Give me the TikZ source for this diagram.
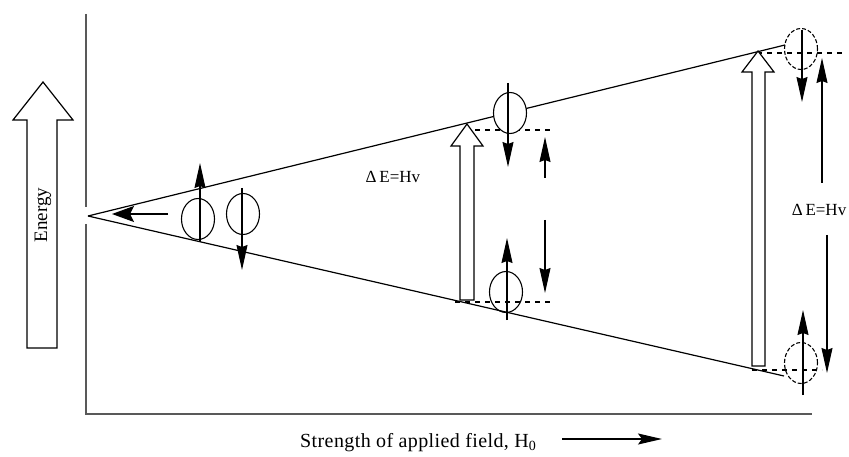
\documentclass[tikz,border=0pt]{standalone}
\usepackage{fontspec}
\setmainfont{Liberation Serif}
\usetikzlibrary{arrows.meta,shapes.geometric}
\begin{document}
\begin{tikzpicture}[x=1pt,y=-1pt,
  axis/.style={line width=2.2pt,draw=black!65},
  level/.style={line width=1.2pt},
  lvldash/.style={line width=1.2pt,dash pattern=on 5pt off 5pt},
  spin/.style={ellipse,draw,line width=1.1pt,fill=white,minimum width=33pt,minimum height=41pt,inner sep=0pt},
  spinopen/.style={spin,fill=none},
  spindash/.style={spin,fill=none,dash pattern=on 4pt off 2pt},
  spinarrow/.style={line width=1.1pt,-{Stealth[length=25pt,width=11pt,inset=2pt]}},
  hollow/.style={draw,line width=1.2pt,fill=white,line join=miter},
  lbl/.style={font=\fontsize{17}{17}\selectfont,inner sep=0pt}]
\useasboundingbox (0,0) rectangle (849,457);
% axes
\coordinate (ytop) at (86,14);
\coordinate (ybrk1) at (86,207);
\coordinate (ybrk2) at (86,224);
\coordinate (origin) at (86,414);
\coordinate (xend) at (812,414);
\draw[axis] (ytop) -- (ybrk1);
\draw[axis,line cap=butt] (ybrk2) -- (origin) -- (xend);
% energy lines
\coordinate (apex) at (88,216);
\coordinate (topend) at (785,45);
\coordinate (botend) at (784,376);
\draw[level] (apex) -- (topend);
\draw[level] (apex) -- (botend);
% dashed levels
\coordinate (m1a) at (465,130); \coordinate (m1b) at (550,130);
\coordinate (m2a) at (455,302); \coordinate (m2b) at (550,302);
\coordinate (r1a) at (757,53);  \coordinate (r1b) at (845,53);
\coordinate (r2a) at (752,370); \coordinate (r2b) at (822,370);
\draw[lvldash] (m1a) -- (m1b);
\draw[lvldash] (r1a) -- (r1b);
\draw[lvldash] (r2a) -- (r2b);
% hollow arrows
\draw[hollow] (27,348) -- (27,120) -- (13,120) -- (43,82) -- (73,120) -- (57,120) -- (57,348) -- cycle;
\draw[hollow] (460,300) -- (460,146) -- (451,146) -- (467,124) -- (483,146) -- (474,146) -- (474,300) -- cycle;
\draw[hollow] (752,366) -- (752,72) -- (742,72) -- (758,51) -- (774,72) -- (765,72) -- (765,366) -- cycle;
% spins
\node[spin] (c1) at (198,219) {};
\node[spin] (c2) at (243,214) {};
\node[spin] (c3) at (510,113) {};
\node[spinopen] (c4) at (506,292) {};
\node[spindash] (c5) at (801,49) {};
\node[spindash] (c6) at (801,363) {};
\draw[lvldash] (m2a) -- (m2b);
% spin arrows
\coordinate (s1a) at (200,242); \coordinate (s1b) at (200,163);
\coordinate (s2a) at (242,188); \coordinate (s2b) at (242,270);
\coordinate (s3a) at (508,83);  \coordinate (s3b) at (508,167);
\coordinate (s4a) at (507,320); \coordinate (s4b) at (507,238);
\coordinate (s5a) at (802,30);  \coordinate (s5b) at (802,102);
\coordinate (s6a) at (803,395); \coordinate (s6b) at (803,310);
\draw[spinarrow] (s1a) -- (s1b);
\draw[spinarrow] (s2a) -- (s2b);
\draw[spinarrow] (s3a) -- (s3b);
\draw[spinarrow] (s4a) -- (s4b);
\draw[spinarrow] (s5a) -- (s5b);
\draw[spinarrow] (s6a) -- (s6b);
% transition arrows
\coordinate (t1a) at (545,178); \coordinate (t1b) at (545,137);
\coordinate (t2a) at (545,220); \coordinate (t2b) at (545,293);
\coordinate (t3a) at (822,183); \coordinate (t3b) at (822,58);
\coordinate (t4a) at (827,235); \coordinate (t4b) at (827,373);
\draw[spinarrow] (t1a) -- (t1b);
\draw[spinarrow] (t2a) -- (t2b);
\draw[spinarrow] (t3a) -- (t3b);
\draw[spinarrow] (t4a) -- (t4b);
% left arrow
\coordinate (la) at (168,214); \coordinate (lb) at (112,214);
\draw[line width=1.2pt,-{Stealth[length=22pt,width=16pt,inset=4pt]}] (la) -- (lb);
% labels
\node[lbl,font=\fontsize{19}{19}\selectfont,rotate=90] (energy) at (43,215) {Energy};
\node[lbl] (de1) at (393,177) {Δ\,E=Hv};
\node[lbl] (de2) at (819,210) {Δ\,E=Hv};
\node[lbl,font=\fontsize{20}{20}\selectfont\addfontfeatures{LetterSpace=2},anchor=west] (xlabel) at (300,443) {Strength of applied field, H\textsubscript{0}};
\coordinate (xa) at (562,439); \coordinate (xb) at (662,439);
\draw[line width=1.2pt,-{Stealth[length=24pt,width=11pt,inset=4pt]}] (xa) -- (xb);
\end{tikzpicture}
\end{document}
